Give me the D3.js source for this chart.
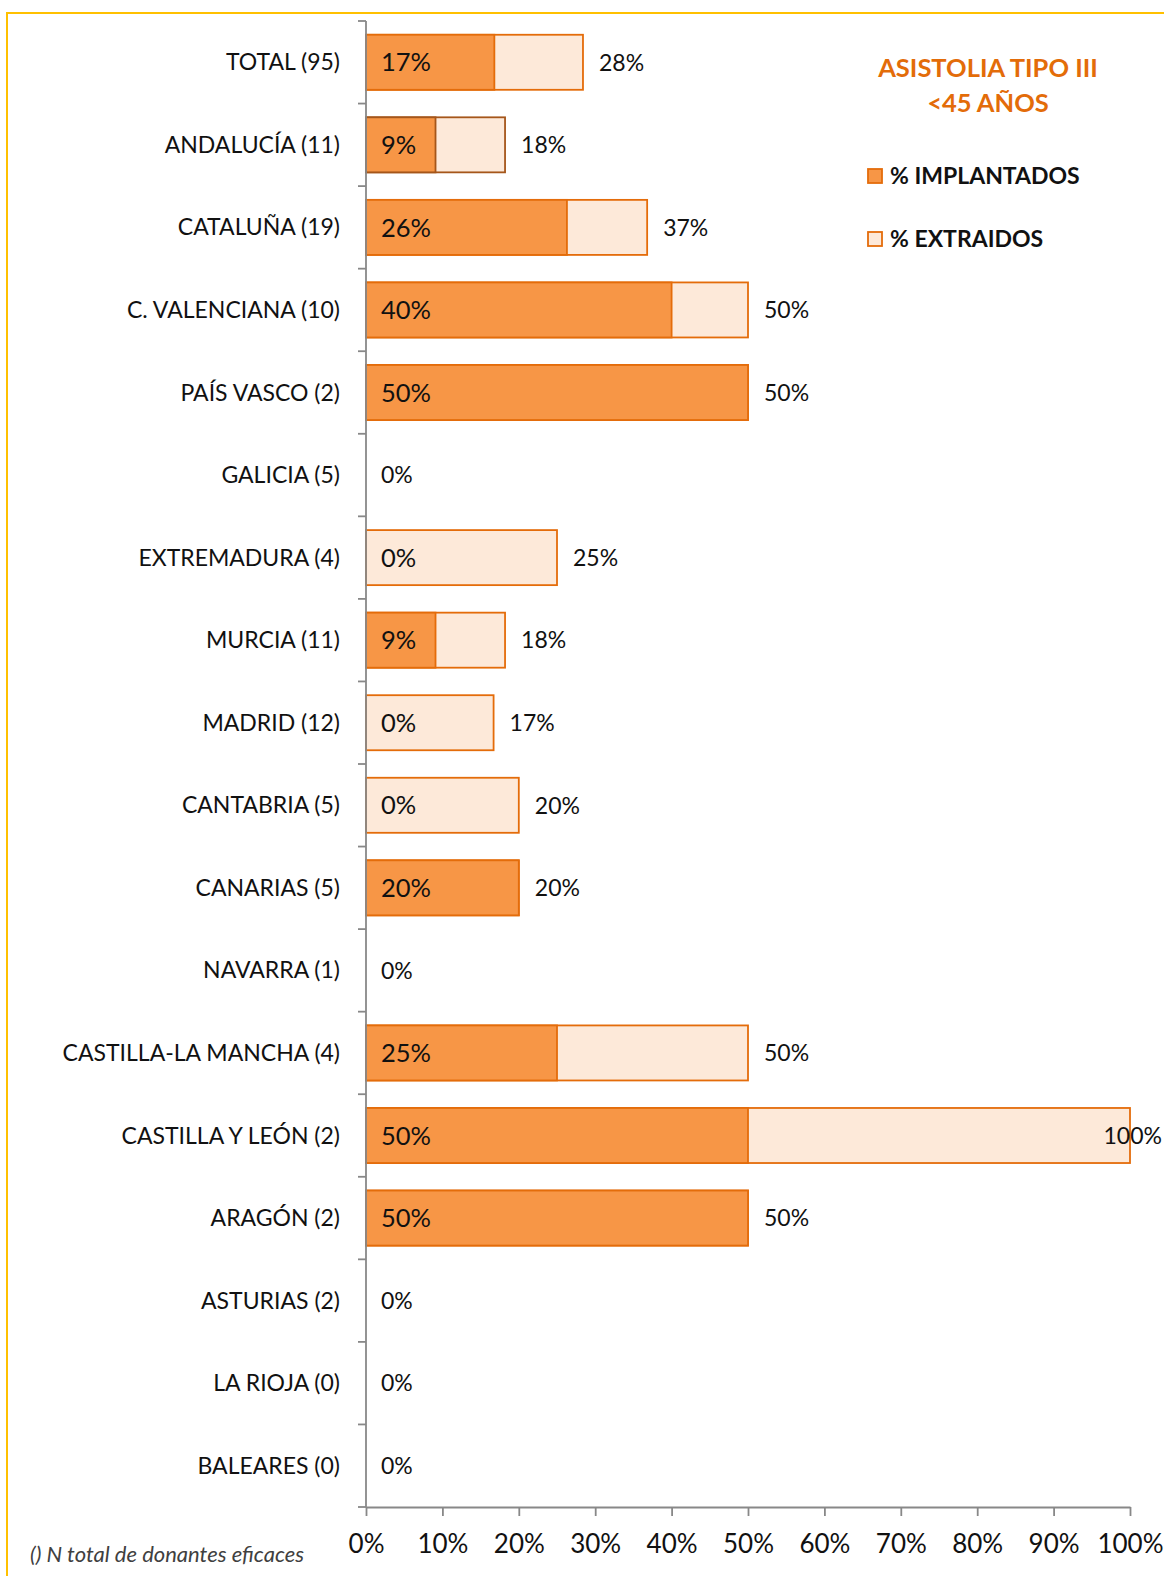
<!DOCTYPE html>
<html>
<head>
<meta charset="utf-8">
<script src="https://cdn.jsdelivr.net/npm/d3@7"></script>
<style>
  body { margin: 0; background: #fff; }
  text { font-family: Lato, "Open Sans", sans-serif; }
</style>
</head>
<body>
<div id="chart"></div>
<script>
var categories = ["TOTAL (95)", "ANDALUCÍA (11)", "CATALUÑA (19)", "C. VALENCIANA (10)", "PAÍS VASCO (2)",
    "GALICIA (5)", "EXTREMADURA (4)", "MURCIA (11)", "MADRID (12)", "CANTABRIA (5)", "CANARIAS (5)",
    "NAVARRA (1)", "CASTILLA-LA MANCHA (4)", "CASTILLA Y LEÓN (2)", "ARAGÓN (2)", "ASTURIAS (2)",
    "LA RIOJA (0)", "BALEARES (0)"]
var implantados = [16.8, 9.1, 26.3, 40, 50, 0, 0, 9.1, 0, 0, 20, 0, 25, 50, 50, 0, 0, 0]
var extraidos   = [28.4, 18.2, 36.8, 50, 50, 0, 25, 18.2, 16.7, 20, 20, 0, 50, 100, 50, 0, 0, 0]
var xTicks = [0, 10, 20, 30, 40, 50, 60, 70, 80, 90, 100]
var titleLines = ["ASISTOLIA TIPO III", "<45 AÑOS"]
var legendLabels = ["% IMPLANTADOS", "% EXTRAIDOS"]
var footnote = "() N total de donantes eficaces"
var highlighted = "ANDALUCÍA (11)"

var width = 1164, height = 1576
var plotLeft = 366, plotRight = 1130, plotTop = 21, plotBottom = 1507

var colImp = "#f79646", colExt = "#fde9d9", colEdge = "#e46c0a", colEdgeDark = "#a5561a"
var axisCol = "#888888"

var data = categories.map(function(c, i) {
    return {cat: c, imp: implantados[i], ext: extraidos[i]}
})

var svg = d3.select("#chart").append("svg")
    .attr("width", width)
    .attr("height", height)

// frame
svg.append("path")
    .attr("d", "M7," + height + "V13H" + width)
    .attr("fill", "none")
    .attr("stroke", "#ffc000")
    .attr("stroke-width", 2)

var x = d3.scaleLinear()
    .domain([0, 100])
    .range([plotLeft, plotRight])

var y = d3.scaleBand()
    .domain(categories)
    .range([plotTop, plotBottom])
    .paddingInner(1 / 3)
    .paddingOuter(1 / 6)

// extraidos bars (behind)
svg.append("g").selectAll("rect")
    .data(data.filter(function(d) { return d.ext > 0 }))
    .enter().append("rect")
    .attr("x", x(0))
    .attr("y", function(d) { return y(d.cat) })
    .attr("width", function(d) { return x(d.ext) - x(0) })
    .attr("height", y.bandwidth())
    .attr("fill", colExt)
    .attr("stroke", function(d) { return d.cat == highlighted ? colEdgeDark : colEdge })
    .attr("stroke-width", 1.8)

// implantados bars
svg.append("g").selectAll("rect")
    .data(data.filter(function(d) { return d.imp > 0 }))
    .enter().append("rect")
    .attr("x", x(0))
    .attr("y", function(d) { return y(d.cat) })
    .attr("width", function(d) { return x(d.imp) - x(0) })
    .attr("height", y.bandwidth())
    .attr("fill", colImp)
    .attr("stroke", function(d) { return d.cat == highlighted ? colEdgeDark : colEdge })
    .attr("stroke-width", 1.8)

// y axis: line + ticks at band boundaries
var step = y.step()
svg.append("line")
    .attr("x1", plotLeft).attr("x2", plotLeft)
    .attr("y1", plotTop).attr("y2", plotBottom)
    .attr("stroke", axisCol).attr("stroke-width", 1.8)
svg.append("g").selectAll("line")
    .data(d3.range(categories.length + 1))
    .enter().append("line")
    .attr("x1", plotLeft - 8).attr("x2", plotLeft)
    .attr("y1", function(i) { return plotTop + i * step })
    .attr("y2", function(i) { return plotTop + i * step })
    .attr("stroke", axisCol).attr("stroke-width", 1.8)

// category labels
svg.append("g").selectAll("text")
    .data(categories)
    .enter().append("text")
    .attr("x", 340)
    .attr("y", function(d) { return y(d) + y.bandwidth() / 2 })
    .attr("dy", "0.35em")
    .attr("text-anchor", "end")
    .attr("font-size", 23)
    .attr("fill", "#111")
    .text(function(d) { return d })

// x axis
var xAxis = svg.append("g")
    .attr("transform", "translate(0," + plotBottom + ")")
    .call(d3.axisBottom(x).tickValues(xTicks).tickSize(9).tickSizeOuter(0)
        .tickFormat(function(d) { return d + "%" }))
xAxis.select(".domain").attr("stroke", axisCol).attr("stroke-width", 1.8)
xAxis.selectAll(".tick line").attr("stroke", axisCol).attr("stroke-width", 1.8)
xAxis.selectAll(".tick text")
    .attr("font-family", "Lato, sans-serif")
    .attr("font-size", 26)
    .attr("fill", "#111")
    .attr("y", 23)
    .attr("dy", "0.9em")

// inside labels (implantados) where a bar exists
svg.append("g").selectAll("text")
    .data(data.filter(function(d) { return d.ext > 0 }))
    .enter().append("text")
    .attr("x", x(0) + 15)
    .attr("y", function(d) { return y(d.cat) + y.bandwidth() / 2 })
    .attr("dy", "0.36em")
    .attr("font-size", 25.5)
    .attr("fill", "#111")
    .text(function(d) { return Math.round(d.imp) + "%" })

// outside labels (extraidos)
svg.append("g").selectAll("text")
    .data(data)
    .enter().append("text")
    .attr("y", function(d) { return y(d.cat) + y.bandwidth() / 2 })
    .attr("dy", "0.36em")
    .attr("font-size", 23)
    .attr("fill", "#111")
    .text(function(d) { return Math.round(d.ext) + "%" })
    .attr("x", function(d) {
        var w = this.getComputedTextLength()
        var pos = x(d.ext) + (d.ext > 0 ? 16 : 15)
        return pos + w > width ? width - w - 2 : pos
    })

// title
svg.append("g").selectAll("text")
    .data(titleLines)
    .enter().append("text")
    .attr("x", 988)
    .attr("y", function(d, i) { return 77 + i * 35 })
    .attr("text-anchor", "middle")
    .attr("font-size", 25.5)
    .attr("font-weight", "bold")
    .attr("fill", "#e36c09")
    .text(function(d) { return d })

// legend
var legend = svg.append("g").selectAll("g")
    .data(legendLabels)
    .enter().append("g")
    .attr("transform", function(d, i) { return "translate(868," + (169 + i * 63) + ")" })
legend.append("rect")
    .attr("width", 14).attr("height", 14)
    .attr("fill", function(d, i) { return i == 0 ? colImp : colExt })
    .attr("stroke", colEdge).attr("stroke-width", 1.8)
legend.append("text")
    .attr("x", 22).attr("y", 15)
    .attr("font-size", 23)
    .attr("font-weight", "bold")
    .attr("fill", "#111")
    .text(function(d) { return d })

// footnote
svg.append("text")
    .attr("x", 30).attr("y", 1562)
    .attr("font-size", 22)
    .attr("font-style", "italic")
    .attr("fill", "#404040")
    .text(footnote)
</script>
</body>
</html>
